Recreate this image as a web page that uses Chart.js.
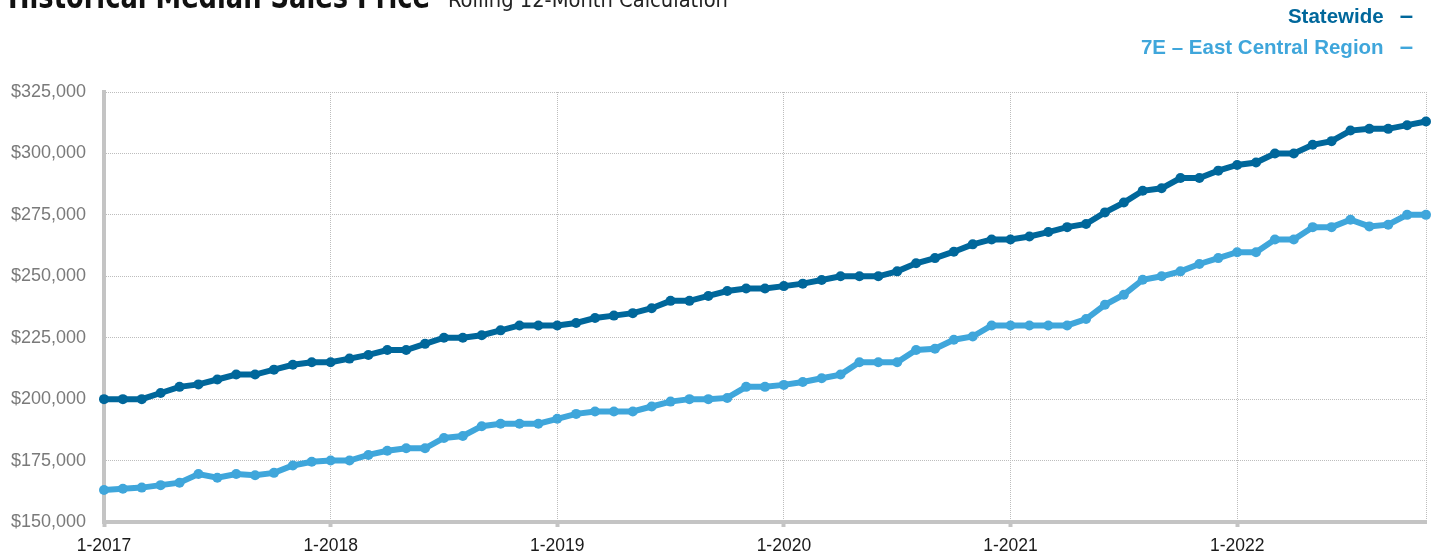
<!DOCTYPE html>
<html>
<head>
<meta charset="utf-8">
<script src="https://cdn.jsdelivr.net/npm/chart.js@4.4.1/dist/chart.umd.min.js"></script>
<style>
  html, body { margin:0; padding:0; width:1436px; height:552px; overflow:hidden; background:#fff; }
  #wrap { position:relative; width:1436px; height:552px; }
  #chart { position:absolute; left:0; top:0; }
  .head { position:absolute; white-space:nowrap; line-height:1; transform-origin:0 0;
          font-family:"Liberation Sans Narrow","DejaVu Sans Condensed","Liberation Sans",sans-serif; font-stretch:condensed; }
  #title { left:8px; top:-21px; font-size:34px; font-weight:700; color:#111; }
  #subtitle { left:448px; top:-10px; font-size:21px; font-weight:400; color:#222; }
  #legend { position:absolute; right:23px; top:0px; text-align:right; font-family:"Liberation Sans",Arial,sans-serif;
            font-weight:700; font-size:20.5px; line-height:30px; white-space:nowrap; }
  #legend .dash { font-size:24px; margin-left:16px; }
</style>
</head>
<body>
<div id="wrap">
  <canvas id="chart" width="1436" height="552"></canvas>
  <div class="head" id="title">Historical Median Sales Price</div>
  <div class="head" id="subtitle">Rolling 12-Month Calculation</div>
  <div id="legend"></div>
</div>
<script>
const months = [
  '1-2017','2-2017','3-2017','4-2017','5-2017','6-2017','7-2017','8-2017','9-2017','10-2017','11-2017','12-2017',
  '1-2018','2-2018','3-2018','4-2018','5-2018','6-2018','7-2018','8-2018','9-2018','10-2018','11-2018','12-2018',
  '1-2019','2-2019','3-2019','4-2019','5-2019','6-2019','7-2019','8-2019','9-2019','10-2019','11-2019','12-2019',
  '1-2020','2-2020','3-2020','4-2020','5-2020','6-2020','7-2020','8-2020','9-2020','10-2020','11-2020','12-2020',
  '1-2021','2-2021','3-2021','4-2021','5-2021','6-2021','7-2021','8-2021','9-2021','10-2021','11-2021','12-2021',
  '1-2022','2-2022','3-2022','4-2022','5-2022','6-2022','7-2022','8-2022','9-2022','10-2022','11-2022'
];

const statewide = [
  200000, 200000, 200000, 202500, 205000, 206000, 208000, 210000, 210000, 212000, 214000, 215000,
  215000, 216500, 218000, 220000, 220000, 222500, 225000, 225000, 226000, 228000, 230000, 230000,
  230000, 231000, 233000, 234000, 235000, 237000, 240000, 240000, 242000, 244000, 245000, 245000,
  246000, 247000, 248500, 250000, 250000, 250000, 252000, 255300, 257400, 260000, 263000, 265000,
  265000, 266200, 268000, 270000, 271300, 276000, 280000, 284800, 285800, 290000, 290000, 293000,
  295300, 296300, 300000, 300000, 303500, 305000, 309300, 310000, 310000, 311500, 313000
];

const eastCentral = [
  163000, 163500, 164000, 165000, 166000, 169500, 168000, 169500, 169000, 170000, 173000, 174500,
  175000, 175000, 177300, 179000, 180000, 180000, 184200, 185000, 189000, 190000, 190000, 190000,
  192000, 194000, 195000, 195000, 195000, 197000, 199000, 200000, 200000, 200500, 205000, 205000,
  205800, 207000, 208500, 210000, 215000, 215000, 215000, 220000, 220500, 224200, 225500, 230000,
  230000, 230000, 230000, 230000, 232600, 238400, 242500, 248600, 250000, 252000, 255000, 257400,
  259800, 259800, 265000, 265000, 270000, 270000, 273000, 270300, 271000, 275000, 275000
];

const seriesNames = ['Statewide', '7E \u2013 East Central Region'];
const seriesColors = ['#00679b', '#3fa6db'];
const yMin = 150000, yMax = 325000, yStep = 25000;

const legend = document.getElementById('legend');
legend.innerHTML = seriesNames.map((n, i) =>
  `<div style="color:${seriesColors[i]};">${n}<span class="dash">\u2013</span></div>`).join('');

const fitWidth = (id, w) => {
  const el = document.getElementById(id);
  const r = w / el.getBoundingClientRect().width;
  el.style.transform = `scaleX(${r})`;
};
fitWidth('title', 422);
fitWidth('subtitle', 280);

const last = months.length - 1;
const isJan = (i) => months[i] && months[i].startsWith('1-');
const gridColor = '#bdbdbd';
const axisColor = '#c4c4c4';
const fmt = (v) => '$' + v.toLocaleString('en-US');

new Chart(document.getElementById('chart'), {
  type: 'line',
  data: {
    labels: months,
    datasets: [statewide, eastCentral].map((d, i) => ({
      label: seriesNames[i],
      data: d,
      borderColor: seriesColors[i],
      backgroundColor: seriesColors[i],
      pointBackgroundColor: seriesColors[i],
      pointBorderWidth: 0,
      pointRadius: 5,
      borderWidth: 6,
      tension: 0,
      fill: false
    }))
  },
  options: {
    responsive: false,
    animation: false,
    layout: { padding: { top: 92, right: 10, left: 0, bottom: 0 } },
    plugins: { legend: { display: false }, tooltip: { enabled: false } },
    scales: {
      x: {
        type: 'category',
        offset: false,
        afterFit: (s) => { s.height = 30; },
        border: { display: true, color: axisColor, width: 4, dash: [1, 1] },
        grid: {
          color: (ctx) => (isJan(ctx.index) || ctx.index === last) ? gridColor : 'rgba(0,0,0,0)',
          lineWidth: 1,
          drawTicks: true,
          tickLength: 5,
          tickWidth: 4,
          tickColor: (ctx) => isJan(ctx.index) ? axisColor : 'rgba(0,0,0,0)',
          tickBorderDash: []
        },
        ticks: {
          autoSkip: false,
          maxRotation: 0,
          padding: 9,
          color: '#1a1a1a',
          font: { family: '"Liberation Sans", Arial, sans-serif', size: 17.5 },
          callback: (v, i) => isJan(i) ? months[i] : ''
        }
      },
      y: {
        min: yMin,
        max: yMax,
        afterFit: (s) => { s.width = 104; },
        border: { display: true, color: axisColor, width: 4, dash: [1, 1] },
        grid: { color: gridColor, lineWidth: 1, drawTicks: false },
        ticks: {
          stepSize: yStep,
          padding: 18,
          color: '#7a7a7a',
          font: { family: '"Liberation Sans", Arial, sans-serif', size: 18 },
          callback: (v) => fmt(v)
        }
      }
    }
  }
});
</script>
</body>
</html>
